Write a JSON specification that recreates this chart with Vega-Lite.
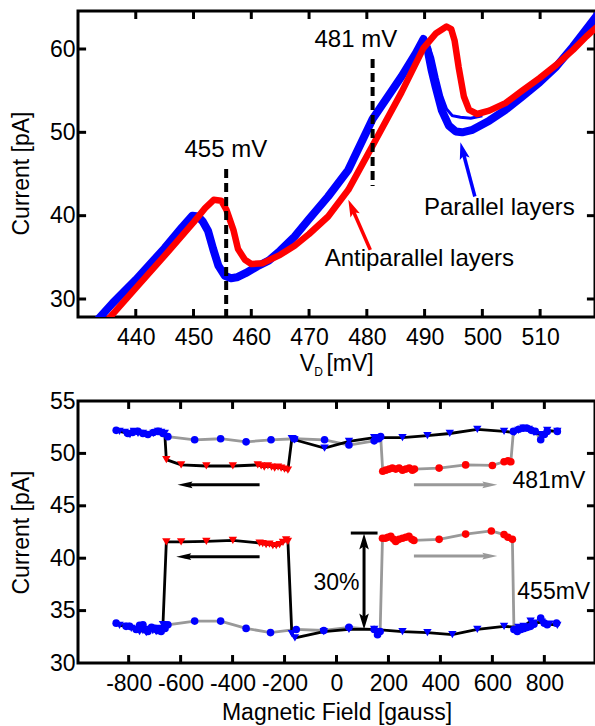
{
  "$schema": "https://vega.github.io/schema/vega-lite/v6.json",
  "padding": {"left": 8, "top": 8, "right": 0, "bottom": 0},
  "spacing": 8,
  "config": {
    "font": "Liberation Sans",
    "view": {"stroke": "black", "strokeWidth": 3},
    "axis": {"domain": false, "grid": false, "ticks": false,
      "labelFont": "Liberation Sans", "labelFontSize": 23, "labelColor": "black", "labelOverlap": false,
      "labelExpr": "datum.value < 0 ? '-' + abs(datum.value) : '' + datum.value",
      "titleFont": "Liberation Sans", "titleFontSize": 23, "titleFontWeight": "normal", "titleColor": "black"},
    "axisX": {"labelPadding": 9, "titlePadding": 6},
    "axisY": {"labelPadding": 3, "titlePadding": 16},
    "text": {"font": "Liberation Sans", "fontSize": 23, "color": "black"},
    "point": {"opacity": 1}
  },
  "datasets": {
    "iv": [
      {"mV": 433.0, "pA": 27.2, "trace": "Parallel"}, {"mV": 436, "pA": 29.5, "trace": "Parallel"}, {"mV": 440, "pA": 32.3, "trace": "Parallel"},
      {"mV": 445, "pA": 36.1, "trace": "Parallel"}, {"mV": 448, "pA": 38.6, "trace": "Parallel"}, {"mV": 449.8, "pA": 40.0, "trace": "Parallel"},
      {"mV": 450.8, "pA": 39.9, "trace": "Parallel"}, {"mV": 451.6, "pA": 39.3, "trace": "Parallel"}, {"mV": 452.5, "pA": 38.2, "trace": "Parallel"},
      {"mV": 453.4, "pA": 36.0, "trace": "Parallel"}, {"mV": 454.3, "pA": 34.0, "trace": "Parallel"}, {"mV": 455.4, "pA": 32.8, "trace": "Parallel"},
      {"mV": 456.5, "pA": 32.5, "trace": "Parallel"}, {"mV": 457.5, "pA": 32.6, "trace": "Parallel"}, {"mV": 459, "pA": 33.1, "trace": "Parallel"},
      {"mV": 461, "pA": 33.9, "trace": "Parallel"}, {"mV": 463, "pA": 34.6, "trace": "Parallel"}, {"mV": 465, "pA": 35.8, "trace": "Parallel"},
      {"mV": 467.5, "pA": 37.5, "trace": "Parallel"}, {"mV": 470, "pA": 39.6, "trace": "Parallel"}, {"mV": 473.3, "pA": 42.3, "trace": "Parallel"},
      {"mV": 476.8, "pA": 45.5, "trace": "Parallel"}, {"mV": 481, "pA": 51.6, "trace": "Parallel"}, {"mV": 486, "pA": 56.7, "trace": "Parallel"},
      {"mV": 488.5, "pA": 59.5, "trace": "Parallel"}, {"mV": 489.8, "pA": 61.2, "trace": "Parallel"}, {"mV": 490.5, "pA": 60.0, "trace": "Parallel"},
      {"mV": 491.2, "pA": 57.5, "trace": "Parallel"}, {"mV": 491.9, "pA": 55.5, "trace": "Parallel"}, {"mV": 493, "pA": 52.6, "trace": "Parallel"},
      {"mV": 494.2, "pA": 50.8, "trace": "Parallel"}, {"mV": 495.4, "pA": 50.1, "trace": "Parallel"}, {"mV": 496.5, "pA": 50.0, "trace": "Parallel"},
      {"mV": 498.3, "pA": 50.3, "trace": "Parallel"}, {"mV": 501.2, "pA": 51.4, "trace": "Parallel"}, {"mV": 504, "pA": 52.7, "trace": "Parallel"},
      {"mV": 506.9, "pA": 54.3, "trace": "Parallel"}, {"mV": 509.9, "pA": 56.0, "trace": "Parallel"}, {"mV": 512.8, "pA": 57.9, "trace": "Parallel"},
      {"mV": 515.7, "pA": 60.3, "trace": "Parallel"}, {"mV": 519.7, "pA": 63.9, "trace": "Parallel"}, {"mV": 521, "pA": 65.1, "trace": "Parallel"},
      {"mV": 489.5, "pA": 60.8, "trace": "Parallel spread"}, {"mV": 490.6, "pA": 60.6, "trace": "Parallel spread"}, {"mV": 491.4, "pA": 59.0, "trace": "Parallel spread"},
      {"mV": 492.2, "pA": 56.5, "trace": "Parallel spread"}, {"mV": 493.0, "pA": 54.3, "trace": "Parallel spread"}, {"mV": 493.8, "pA": 52.8, "trace": "Parallel spread"},
      {"mV": 494.8, "pA": 52.0, "trace": "Parallel spread"}, {"mV": 496.2, "pA": 51.8, "trace": "Parallel spread"}, {"mV": 498, "pA": 51.7, "trace": "Parallel spread"},
      {"mV": 500, "pA": 52.0, "trace": "Parallel spread"},
      {"mV": 434.5, "pA": 27.0, "trace": "Antiparallel"}, {"mV": 440, "pA": 31.3, "trace": "Antiparallel"}, {"mV": 445, "pA": 35.2, "trace": "Antiparallel"},
      {"mV": 450, "pA": 39.2, "trace": "Antiparallel"}, {"mV": 452, "pA": 40.9, "trace": "Antiparallel"}, {"mV": 453.5, "pA": 41.9, "trace": "Antiparallel"},
      {"mV": 454.8, "pA": 41.8, "trace": "Antiparallel"}, {"mV": 455.7, "pA": 40.7, "trace": "Antiparallel"}, {"mV": 456.9, "pA": 38.3, "trace": "Antiparallel"},
      {"mV": 457.7, "pA": 36.0, "trace": "Antiparallel"}, {"mV": 458.9, "pA": 34.7, "trace": "Antiparallel"}, {"mV": 460, "pA": 34.2, "trace": "Antiparallel"},
      {"mV": 462, "pA": 34.3, "trace": "Antiparallel"}, {"mV": 465, "pA": 35.3, "trace": "Antiparallel"}, {"mV": 467.5, "pA": 36.4, "trace": "Antiparallel"},
      {"mV": 470, "pA": 37.8, "trace": "Antiparallel"}, {"mV": 473.3, "pA": 39.9, "trace": "Antiparallel"}, {"mV": 476.8, "pA": 43.1, "trace": "Antiparallel"},
      {"mV": 481, "pA": 48.4, "trace": "Antiparallel"}, {"mV": 486, "pA": 54.8, "trace": "Antiparallel"}, {"mV": 489.8, "pA": 60.1, "trace": "Antiparallel"},
      {"mV": 492, "pA": 61.9, "trace": "Antiparallel"}, {"mV": 493.8, "pA": 62.7, "trace": "Antiparallel"}, {"mV": 494.6, "pA": 62.4, "trace": "Antiparallel"},
      {"mV": 495.2, "pA": 61.0, "trace": "Antiparallel"}, {"mV": 495.9, "pA": 57.8, "trace": "Antiparallel"}, {"mV": 496.8, "pA": 54.3, "trace": "Antiparallel"},
      {"mV": 497.7, "pA": 52.7, "trace": "Antiparallel"}, {"mV": 499.1, "pA": 52.2, "trace": "Antiparallel"}, {"mV": 501.2, "pA": 52.6, "trace": "Antiparallel"},
      {"mV": 504, "pA": 53.5, "trace": "Antiparallel"}, {"mV": 506.9, "pA": 55.0, "trace": "Antiparallel"}, {"mV": 509.9, "pA": 56.5, "trace": "Antiparallel"},
      {"mV": 512.8, "pA": 58.1, "trace": "Antiparallel"}, {"mV": 515.7, "pA": 59.9, "trace": "Antiparallel"}, {"mV": 518, "pA": 61.5, "trace": "Antiparallel"},
      {"mV": 521, "pA": 63.4, "trace": "Antiparallel"}
    ],
    "mr": [
      {"B": -848, "I": 52.2, "sweep": "up", "volt": "481", "state": "P"}, {"B": -803, "I": 51.9, "sweep": "up", "volt": "481", "state": "P"},
      {"B": -785, "I": 52.0, "sweep": "up", "volt": "481", "state": "P"}, {"B": -764, "I": 52.1, "sweep": "up", "volt": "481", "state": "P"},
      {"B": -745, "I": 51.9, "sweep": "up", "volt": "481", "state": "P"}, {"B": -726, "I": 51.8, "sweep": "up", "volt": "481", "state": "P"},
      {"B": -705, "I": 52.0, "sweep": "up", "volt": "481", "state": "P"}, {"B": -687, "I": 52.1, "sweep": "up", "volt": "481", "state": "P"},
      {"B": -668, "I": 51.9, "sweep": "up", "volt": "481", "state": "P"}, {"B": -649, "I": 51.6, "sweep": "up", "volt": "481", "state": "P"},
      {"B": -546, "I": 51.3, "sweep": "up", "volt": "481", "state": "P"}, {"B": -446, "I": 51.4, "sweep": "up", "volt": "481", "state": "P"},
      {"B": -348, "I": 51.1, "sweep": "up", "volt": "481", "state": "P"}, {"B": -252, "I": 51.3, "sweep": "up", "volt": "481", "state": "P"},
      {"B": -162, "I": 51.4, "sweep": "up", "volt": "481", "state": "P"}, {"B": -46, "I": 51.3, "sweep": "up", "volt": "481", "state": "P"},
      {"B": 48, "I": 50.8, "sweep": "up", "volt": "481", "state": "P"}, {"B": 145, "I": 51.2, "sweep": "up", "volt": "481", "state": "P"},
      {"B": 162, "I": 51.4, "sweep": "up", "volt": "481", "state": "P"}, {"B": 170, "I": 51.6, "sweep": "up", "volt": "481", "state": "P"},
      {"B": 178, "I": 48.3, "sweep": "up", "volt": "481", "state": "AP"}, {"B": 190, "I": 48.4, "sweep": "up", "volt": "481", "state": "AP"},
      {"B": 203, "I": 48.5, "sweep": "up", "volt": "481", "state": "AP"}, {"B": 215, "I": 48.6, "sweep": "up", "volt": "481", "state": "AP"},
      {"B": 228, "I": 48.5, "sweep": "up", "volt": "481", "state": "AP"}, {"B": 241, "I": 48.6, "sweep": "up", "volt": "481", "state": "AP"},
      {"B": 254, "I": 48.4, "sweep": "up", "volt": "481", "state": "AP"}, {"B": 267, "I": 48.5, "sweep": "up", "volt": "481", "state": "AP"},
      {"B": 280, "I": 48.6, "sweep": "up", "volt": "481", "state": "AP"}, {"B": 292, "I": 48.4, "sweep": "up", "volt": "481", "state": "AP"},
      {"B": 300, "I": 48.5, "sweep": "up", "volt": "481", "state": "AP"}, {"B": 395, "I": 48.6, "sweep": "up", "volt": "481", "state": "AP"},
      {"B": 497, "I": 48.9, "sweep": "up", "volt": "481", "state": "AP"}, {"B": 600, "I": 48.85, "sweep": "up", "volt": "481", "state": "AP"},
      {"B": 645, "I": 49.2, "sweep": "up", "volt": "481", "state": "AP"}, {"B": 660, "I": 49.3, "sweep": "up", "volt": "481", "state": "AP"},
      {"B": 671, "I": 49.2, "sweep": "up", "volt": "481", "state": "AP"},
      {"B": 681, "I": 52.1, "sweep": "up", "volt": "481", "state": "P"}, {"B": 702, "I": 52.3, "sweep": "up", "volt": "481", "state": "P"},
      {"B": 718, "I": 52.4, "sweep": "up", "volt": "481", "state": "P"}, {"B": 734, "I": 52.4, "sweep": "up", "volt": "481", "state": "P"},
      {"B": 750, "I": 52.2, "sweep": "up", "volt": "481", "state": "P"}, {"B": 765, "I": 52.1, "sweep": "up", "volt": "481", "state": "P"},
      {"B": 786, "I": 51.3, "sweep": "up", "volt": "481", "state": "P"}, {"B": 800, "I": 51.8, "sweep": "up", "volt": "481", "state": "P"},
      {"B": 811, "I": 52.1, "sweep": "up", "volt": "481", "state": "P"}, {"B": 850, "I": 52.1, "sweep": "up", "volt": "481", "state": "P"},

      {"B": 850, "I": 52.1, "sweep": "down", "volt": "481", "state": "P"}, {"B": 811, "I": 52.2, "sweep": "down", "volt": "481", "state": "P"},
      {"B": 786, "I": 51.8, "sweep": "down", "volt": "481", "state": "P"}, {"B": 760, "I": 52.0, "sweep": "down", "volt": "481", "state": "P"},
      {"B": 740, "I": 52.3, "sweep": "down", "volt": "481", "state": "P"}, {"B": 720, "I": 52.4, "sweep": "down", "volt": "481", "state": "P"},
      {"B": 700, "I": 52.2, "sweep": "down", "volt": "481", "state": "P"}, {"B": 685, "I": 52.0, "sweep": "down", "volt": "481", "state": "P"},
      {"B": 645, "I": 52.1, "sweep": "down", "volt": "481", "state": "P"}, {"B": 542, "I": 52.3, "sweep": "down", "volt": "481", "state": "P"},
      {"B": 436, "I": 51.9, "sweep": "down", "volt": "481", "state": "P"}, {"B": 350, "I": 51.7, "sweep": "down", "volt": "481", "state": "P"},
      {"B": 254, "I": 51.5, "sweep": "down", "volt": "481", "state": "P"}, {"B": 145, "I": 51.5, "sweep": "down", "volt": "481", "state": "P"},
      {"B": 48, "I": 51.15, "sweep": "down", "volt": "481", "state": "P"}, {"B": -46, "I": 50.5, "sweep": "down", "volt": "481", "state": "P"},
      {"B": -162, "I": 51.3, "sweep": "down", "volt": "481", "state": "P"}, {"B": -172, "I": 51.4, "sweep": "down", "volt": "481", "state": "P"},
      {"B": -187, "I": 48.4, "sweep": "down", "volt": "481", "state": "AP"}, {"B": -200, "I": 48.5, "sweep": "down", "volt": "481", "state": "AP"},
      {"B": -213, "I": 48.6, "sweep": "down", "volt": "481", "state": "AP"}, {"B": -225, "I": 48.7, "sweep": "down", "volt": "481", "state": "AP"},
      {"B": -238, "I": 48.6, "sweep": "down", "volt": "481", "state": "AP"}, {"B": -250, "I": 48.7, "sweep": "down", "volt": "481", "state": "AP"},
      {"B": -264, "I": 48.8, "sweep": "down", "volt": "481", "state": "AP"}, {"B": -278, "I": 48.7, "sweep": "down", "volt": "481", "state": "AP"},
      {"B": -290, "I": 48.8, "sweep": "down", "volt": "481", "state": "AP"}, {"B": -303, "I": 48.9, "sweep": "down", "volt": "481", "state": "AP"},
      {"B": -399, "I": 48.8, "sweep": "down", "volt": "481", "state": "AP"}, {"B": -501, "I": 48.8, "sweep": "down", "volt": "481", "state": "AP"},
      {"B": -598, "I": 48.9, "sweep": "down", "volt": "481", "state": "AP"}, {"B": -655, "I": 49.4, "sweep": "down", "volt": "481", "state": "AP"},
      {"B": -661, "I": 51.9, "sweep": "down", "volt": "481", "state": "P"}, {"B": -675, "I": 52.0, "sweep": "down", "volt": "481", "state": "P"},
      {"B": -687, "I": 52.1, "sweep": "down", "volt": "481", "state": "P"}, {"B": -705, "I": 51.9, "sweep": "down", "volt": "481", "state": "P"},
      {"B": -722, "I": 51.8, "sweep": "down", "volt": "481", "state": "P"}, {"B": -745, "I": 51.9, "sweep": "down", "volt": "481", "state": "P"},
      {"B": -764, "I": 51.9, "sweep": "down", "volt": "481", "state": "P"}, {"B": -780, "I": 52.1, "sweep": "down", "volt": "481", "state": "P"},
      {"B": -795, "I": 51.8, "sweep": "down", "volt": "481", "state": "P"}, {"B": -815, "I": 52.0, "sweep": "down", "volt": "481", "state": "P"},
      {"B": -835, "I": 52.1, "sweep": "down", "volt": "481", "state": "P"},

      {"B": -848, "I": 33.8, "sweep": "up", "volt": "455", "state": "P"}, {"B": -810, "I": 33.5, "sweep": "up", "volt": "455", "state": "P"},
      {"B": -796, "I": 33.5, "sweep": "up", "volt": "455", "state": "P"}, {"B": -771, "I": 33.2, "sweep": "up", "volt": "455", "state": "P"},
      {"B": -758, "I": 33.6, "sweep": "up", "volt": "455", "state": "P"}, {"B": -745, "I": 33.65, "sweep": "up", "volt": "455", "state": "P"},
      {"B": -726, "I": 33.0, "sweep": "up", "volt": "455", "state": "P"}, {"B": -712, "I": 33.4, "sweep": "up", "volt": "455", "state": "P"},
      {"B": -700, "I": 33.3, "sweep": "up", "volt": "455", "state": "P"}, {"B": -688, "I": 33.1, "sweep": "up", "volt": "455", "state": "P"},
      {"B": -675, "I": 33.0, "sweep": "up", "volt": "455", "state": "P"}, {"B": -660, "I": 33.3, "sweep": "up", "volt": "455", "state": "P"},
      {"B": -649, "I": 33.65, "sweep": "up", "volt": "455", "state": "P"}, {"B": -546, "I": 34.0, "sweep": "up", "volt": "455", "state": "P"},
      {"B": -446, "I": 34.0, "sweep": "up", "volt": "455", "state": "P"}, {"B": -348, "I": 33.3, "sweep": "up", "volt": "455", "state": "P"},
      {"B": -254, "I": 32.9, "sweep": "up", "volt": "455", "state": "P"}, {"B": -155, "I": 33.2, "sweep": "up", "volt": "455", "state": "P"},
      {"B": -49, "I": 33.1, "sweep": "up", "volt": "455", "state": "P"}, {"B": 48, "I": 33.4, "sweep": "up", "volt": "455", "state": "P"},
      {"B": 145, "I": 33.2, "sweep": "up", "volt": "455", "state": "P"}, {"B": 158, "I": 32.7, "sweep": "up", "volt": "455", "state": "P"},
      {"B": 168, "I": 33.0, "sweep": "up", "volt": "455", "state": "P"},
      {"B": 177, "I": 41.9, "sweep": "up", "volt": "455", "state": "AP"}, {"B": 188, "I": 41.9, "sweep": "up", "volt": "455", "state": "AP"},
      {"B": 198, "I": 42.0, "sweep": "up", "volt": "455", "state": "AP"}, {"B": 209, "I": 42.1, "sweep": "up", "volt": "455", "state": "AP"},
      {"B": 220, "I": 41.8, "sweep": "up", "volt": "455", "state": "AP"}, {"B": 228, "I": 41.6, "sweep": "up", "volt": "455", "state": "AP"},
      {"B": 241, "I": 41.8, "sweep": "up", "volt": "455", "state": "AP"}, {"B": 254, "I": 41.9, "sweep": "up", "volt": "455", "state": "AP"},
      {"B": 267, "I": 42.0, "sweep": "up", "volt": "455", "state": "AP"}, {"B": 279, "I": 42.1, "sweep": "up", "volt": "455", "state": "AP"},
      {"B": 290, "I": 41.8, "sweep": "up", "volt": "455", "state": "AP"}, {"B": 298, "I": 41.7, "sweep": "up", "volt": "455", "state": "AP"},
      {"B": 395, "I": 41.8, "sweep": "up", "volt": "455", "state": "AP"}, {"B": 497, "I": 42.3, "sweep": "up", "volt": "455", "state": "AP"},
      {"B": 596, "I": 42.6, "sweep": "up", "volt": "455", "state": "AP"}, {"B": 645, "I": 42.25, "sweep": "up", "volt": "455", "state": "AP"},
      {"B": 660, "I": 42.0, "sweep": "up", "volt": "455", "state": "AP"}, {"B": 677, "I": 41.8, "sweep": "up", "volt": "455", "state": "AP"},
      {"B": 683, "I": 33.2, "sweep": "up", "volt": "455", "state": "P"}, {"B": 696, "I": 33.0, "sweep": "up", "volt": "455", "state": "P"},
      {"B": 710, "I": 33.2, "sweep": "up", "volt": "455", "state": "P"}, {"B": 722, "I": 33.3, "sweep": "up", "volt": "455", "state": "P"},
      {"B": 735, "I": 33.4, "sweep": "up", "volt": "455", "state": "P"}, {"B": 747, "I": 33.5, "sweep": "up", "volt": "455", "state": "P"},
      {"B": 760, "I": 33.7, "sweep": "up", "volt": "455", "state": "P"}, {"B": 786, "I": 34.3, "sweep": "up", "volt": "455", "state": "P"},
      {"B": 800, "I": 33.8, "sweep": "up", "volt": "455", "state": "P"}, {"B": 811, "I": 33.65, "sweep": "up", "volt": "455", "state": "P"},
      {"B": 847, "I": 33.8, "sweep": "up", "volt": "455", "state": "P"},

      {"B": 850, "I": 33.6, "sweep": "down", "volt": "455", "state": "P"}, {"B": 820, "I": 33.7, "sweep": "down", "volt": "455", "state": "P"},
      {"B": 790, "I": 33.9, "sweep": "down", "volt": "455", "state": "P"}, {"B": 760, "I": 33.8, "sweep": "down", "volt": "455", "state": "P"},
      {"B": 747, "I": 34.0, "sweep": "down", "volt": "455", "state": "P"}, {"B": 720, "I": 33.5, "sweep": "down", "volt": "455", "state": "P"},
      {"B": 700, "I": 33.4, "sweep": "down", "volt": "455", "state": "P"}, {"B": 645, "I": 33.5, "sweep": "down", "volt": "455", "state": "P"},
      {"B": 542, "I": 33.2, "sweep": "down", "volt": "455", "state": "P"}, {"B": 446, "I": 32.7, "sweep": "down", "volt": "455", "state": "P"},
      {"B": 350, "I": 32.9, "sweep": "down", "volt": "455", "state": "P"}, {"B": 254, "I": 33.0, "sweep": "down", "volt": "455", "state": "P"},
      {"B": 145, "I": 33.2, "sweep": "down", "volt": "455", "state": "P"}, {"B": 48, "I": 33.2, "sweep": "down", "volt": "455", "state": "P"},
      {"B": -49, "I": 33.0, "sweep": "down", "volt": "455", "state": "P"}, {"B": -160, "I": 32.4, "sweep": "down", "volt": "455", "state": "P"},
      {"B": -172, "I": 32.8, "sweep": "down", "volt": "455", "state": "P"},
      {"B": -187, "I": 41.6, "sweep": "down", "volt": "455", "state": "AP"}, {"B": -194, "I": 41.75, "sweep": "down", "volt": "455", "state": "AP"},
      {"B": -206, "I": 41.5, "sweep": "down", "volt": "455", "state": "AP"}, {"B": -219, "I": 41.3, "sweep": "down", "volt": "455", "state": "AP"},
      {"B": -232, "I": 41.2, "sweep": "down", "volt": "455", "state": "AP"}, {"B": -245, "I": 41.2, "sweep": "down", "volt": "455", "state": "AP"},
      {"B": -258, "I": 41.35, "sweep": "down", "volt": "455", "state": "AP"}, {"B": -271, "I": 41.3, "sweep": "down", "volt": "455", "state": "AP"},
      {"B": -284, "I": 41.4, "sweep": "down", "volt": "455", "state": "AP"}, {"B": -296, "I": 41.45, "sweep": "down", "volt": "455", "state": "AP"},
      {"B": -399, "I": 41.7, "sweep": "down", "volt": "455", "state": "AP"}, {"B": -501, "I": 41.6, "sweep": "down", "volt": "455", "state": "AP"},
      {"B": -598, "I": 41.55, "sweep": "down", "volt": "455", "state": "AP"}, {"B": -655, "I": 41.55, "sweep": "down", "volt": "455", "state": "AP"},
      {"B": -668, "I": 33.65, "sweep": "down", "volt": "455", "state": "P"}, {"B": -681, "I": 33.3, "sweep": "down", "volt": "455", "state": "P"},
      {"B": -694, "I": 33.0, "sweep": "down", "volt": "455", "state": "P"}, {"B": -707, "I": 33.1, "sweep": "down", "volt": "455", "state": "P"},
      {"B": -720, "I": 33.2, "sweep": "down", "volt": "455", "state": "P"}, {"B": -732, "I": 32.9, "sweep": "down", "volt": "455", "state": "P"},
      {"B": -745, "I": 33.1, "sweep": "down", "volt": "455", "state": "P"}, {"B": -758, "I": 33.0, "sweep": "down", "volt": "455", "state": "P"},
      {"B": -775, "I": 33.2, "sweep": "down", "volt": "455", "state": "P"}, {"B": -790, "I": 33.3, "sweep": "down", "volt": "455", "state": "P"},
      {"B": -810, "I": 33.5, "sweep": "down", "volt": "455", "state": "P"}, {"B": -835, "I": 33.6, "sweep": "down", "volt": "455", "state": "P"}
    ],
    "topXTicks": [{"mV": 440}, {"mV": 450}, {"mV": 460}, {"mV": 470}, {"mV": 480}, {"mV": 490}, {"mV": 500}, {"mV": 510}],
    "topYTicks": [{"pA": 30}, {"pA": 40}, {"pA": 50}, {"pA": 60}],
    "botXTicks": [{"B": -800}, {"B": -600}, {"B": -400}, {"B": -200}, {"B": 0}, {"B": 200}, {"B": 400}, {"B": 600}, {"B": 800}],
    "botYTicks": [{"I": 35}, {"I": 40}, {"I": 45}, {"I": 50}]
  },
  "vconcat": [
    {
      "width": 517,
      "height": 306,
      "resolve": {"axis": {"x": "independent", "y": "independent"}},
      "layer": [
        {
          "data": {"name": "iv"},
          "transform": [{"filter": "datum.trace === 'Parallel'"}],
          "mark": {"type": "line", "color": "#0000ff", "strokeWidth": 8, "clip": true, "strokeJoin": "round"},
          "encoding": {
            "x": {"field": "mV", "type": "quantitative", "scale": {"domain": [430, 519.5], "nice": false, "zero": false},
              "axis": {"orient": "bottom", "values": [440, 450, 460, 470, 480, 490, 500, 510], "title": null}},
            "y": {"field": "pA", "type": "quantitative", "scale": {"domain": [27.84, 64.56], "nice": false, "zero": false},
              "axis": {"orient": "left", "values": [30, 40, 50, 60], "title": "Current [pA]", "titleY": 162}}
          }
        },
        {
          "data": {"name": "iv"},
          "transform": [{"filter": "datum.trace === 'Parallel spread'"}],
          "mark": {"type": "line", "color": "#0000ff", "strokeWidth": 3, "clip": true},
          "encoding": {
            "x": {"field": "mV", "type": "quantitative", "axis": null},
            "y": {"field": "pA", "type": "quantitative", "axis": null}
          }
        },
        {
          "data": {"name": "iv"},
          "transform": [{"filter": "datum.trace === 'Antiparallel'"}],
          "mark": {"type": "line", "color": "#ff0000", "strokeWidth": 6.5, "clip": true, "strokeJoin": "round"},
          "encoding": {
            "x": {"field": "mV", "type": "quantitative", "axis": null},
            "y": {"field": "pA", "type": "quantitative", "axis": null}
          }
        },
        {
          "data": {"name": "topXTicks"},
          "mark": {"type": "rule", "color": "black", "strokeWidth": 3},
          "encoding": {"x": {"field": "mV", "type": "quantitative", "axis": null}, "y": {"datum": 27.84, "axis": null}, "y2": {"datum": 28.8}}
        },
        {
          "data": {"name": "topXTicks"},
          "mark": {"type": "rule", "color": "black", "strokeWidth": 3},
          "encoding": {"x": {"field": "mV", "type": "quantitative", "axis": null}, "y": {"datum": 64.56, "axis": null}, "y2": {"datum": 63.6}}
        },
        {
          "data": {"name": "topYTicks"},
          "mark": {"type": "rule", "color": "black", "strokeWidth": 3},
          "encoding": {"y": {"field": "pA", "type": "quantitative", "axis": null}, "x": {"datum": 430, "axis": null}, "x2": {"datum": 431.4}}
        },
        {
          "data": {"name": "topYTicks"},
          "mark": {"type": "rule", "color": "black", "strokeWidth": 3},
          "encoding": {"y": {"field": "pA", "type": "quantitative", "axis": null}, "x": {"datum": 519.5, "axis": null}, "x2": {"datum": 518.1}}
        },
        {
          "data": {"values": [{}]},
          "mark": {"type": "rule", "color": "black", "strokeWidth": 4, "strokeDash": [9, 5]},
          "encoding": {"x": {"datum": 455.65, "axis": null}, "y": {"datum": 45.6, "axis": null}, "y2": {"datum": 27.84}}
        },
        {
          "data": {"values": [{}]},
          "mark": {"type": "rule", "color": "black", "strokeWidth": 4, "strokeDash": [9, 5]},
          "encoding": {"x": {"datum": 481.0, "axis": null}, "y": {"datum": 58.8, "axis": null}, "y2": {"datum": 43.55}}
        },
        {
          "data": {"values": [{}]},
          "mark": {"type": "text", "text": "455 mV", "align": "center", "baseline": "alphabetic", "fontSize": 24},
          "encoding": {"x": {"datum": 455.6, "axis": null}, "y": {"datum": 47.0, "axis": null}}
        },
        {
          "data": {"values": [{}]},
          "mark": {"type": "text", "text": "481 mV", "align": "center", "baseline": "alphabetic", "fontSize": 24},
          "encoding": {"x": {"datum": 478.1, "axis": null}, "y": {"datum": 60.3, "axis": null}}
        },
        {
          "data": {"values": [{}]},
          "mark": {"type": "text", "text": "Parallel layers", "align": "left", "baseline": "alphabetic", "fontSize": 24},
          "encoding": {"x": {"datum": 489.9, "axis": null}, "y": {"datum": 40.1, "axis": null}}
        },
        {
          "data": {"values": [{}]},
          "mark": {"type": "text", "text": "Antiparallel layers", "align": "left", "baseline": "alphabetic", "fontSize": 24},
          "encoding": {"x": {"datum": 472.7, "axis": null}, "y": {"datum": 34.0, "axis": null}}
        },
        {
          "data": {"values": [{}]},
          "mark": {"type": "rule", "color": "#ff0000", "strokeWidth": 3.5},
          "encoding": {"x": {"datum": 480.6, "axis": null}, "y": {"datum": 35.9, "axis": null}, "x2": {"datum": 477.5}, "y2": {"datum": 40.8}}
        },
        {
          "data": {"values": [{}]},
          "mark": {"type": "point", "shape": "M0,0L0.6,2L0,1.6L-0.6,2Z", "filled": true, "color": "#ff0000", "size": 289, "angle": 336.4, "strokeWidth": 0},
          "encoding": {"x": {"datum": 476.8, "axis": null}, "y": {"datum": 41.9, "axis": null}}
        },
        {
          "data": {"values": [{}]},
          "mark": {"type": "rule", "color": "#0000ff", "strokeWidth": 3.5},
          "encoding": {"x": {"datum": 498.7, "axis": null}, "y": {"datum": 42.3, "axis": null}, "x2": {"datum": 496.65}, "y2": {"datum": 47.64}}
        },
        {
          "data": {"values": [{}]},
          "mark": {"type": "point", "shape": "M0,0L0.6,2L0,1.6L-0.6,2Z", "filled": true, "color": "#0000ff", "size": 289, "angle": 345.2, "strokeWidth": 0},
          "encoding": {"x": {"datum": 496.2, "axis": null}, "y": {"datum": 48.8, "axis": null}}
        },
        {
          "data": {"values": [{}]},
          "mark": {"type": "text", "text": "V", "align": "left", "baseline": "alphabetic", "dy": 54},
          "encoding": {"x": {"datum": 468.4, "axis": null}, "y": {"datum": 27.84, "axis": null}}
        },
        {
          "data": {"values": [{}]},
          "mark": {"type": "text", "text": "D", "align": "left", "baseline": "alphabetic", "dy": 59, "fontSize": 12},
          "encoding": {"x": {"datum": 470.9, "axis": null}, "y": {"datum": 27.84, "axis": null}}
        },
        {
          "data": {"values": [{}]},
          "mark": {"type": "text", "text": "[mV]", "align": "left", "baseline": "alphabetic", "dy": 54},
          "encoding": {"x": {"datum": 473.0, "axis": null}, "y": {"datum": 27.84, "axis": null}}
        }
      ]
    },
    {
      "width": 517,
      "height": 262,
      "resolve": {"axis": {"x": "independent", "y": "independent"}},
      "layer": [
        {
          "data": {"name": "mr"},
          "transform": [{"filter": "datum.sweep === 'up'"}],
          "mark": {"type": "line", "color": "#999999", "strokeWidth": 2.8},
          "encoding": {
            "x": {"field": "B", "type": "quantitative", "scale": {"domain": [-995, 995], "nice": false, "zero": false},
              "axis": {"orient": "bottom", "values": [-800, -600, -400, -200, 0, 200, 400, 600, 800], "title": "Magnetic Field [gauss]"}},
            "y": {"field": "I", "type": "quantitative", "scale": {"domain": [30, 55], "nice": false, "zero": false},
              "axis": {"orient": "left", "values": [30, 35, 40, 45, 50, 55], "title": "Current [pA]"}},
            "detail": {"field": "volt"}
          }
        },
        {
          "data": {"name": "mr"},
          "transform": [{"filter": "datum.sweep === 'down'"}],
          "mark": {"type": "line", "color": "#000000", "strokeWidth": 2.8},
          "encoding": {
            "x": {"field": "B", "type": "quantitative", "axis": null},
            "y": {"field": "I", "type": "quantitative", "axis": null},
            "detail": {"field": "volt"}
          }
        },
        {
          "data": {"name": "mr"},
          "transform": [{"filter": "datum.sweep === 'up'"}],
          "mark": {"type": "point", "shape": "circle", "filled": true, "size": 58, "opacity": 1},
          "encoding": {
            "x": {"field": "B", "type": "quantitative", "axis": null},
            "y": {"field": "I", "type": "quantitative", "axis": null},
            "color": {"field": "state", "type": "nominal", "scale": {"domain": ["P", "AP"], "range": ["#0000ff", "#ff0000"]}, "legend": null}
          }
        },
        {
          "data": {"name": "mr"},
          "transform": [{"filter": "datum.sweep === 'down'"}],
          "mark": {"type": "point", "shape": "triangle-down", "filled": true, "size": 70, "opacity": 1},
          "encoding": {
            "x": {"field": "B", "type": "quantitative", "axis": null},
            "y": {"field": "I", "type": "quantitative", "axis": null},
            "color": {"field": "state", "type": "nominal", "legend": null}
          }
        },
        {
          "data": {"name": "botXTicks"},
          "mark": {"type": "rule", "color": "black", "strokeWidth": 3},
          "encoding": {"x": {"field": "B", "type": "quantitative", "axis": null}, "y": {"datum": 30, "axis": null}, "y2": {"datum": 30.76}}
        },
        {
          "data": {"name": "botXTicks"},
          "mark": {"type": "rule", "color": "black", "strokeWidth": 3},
          "encoding": {"x": {"field": "B", "type": "quantitative", "axis": null}, "y": {"datum": 55, "axis": null}, "y2": {"datum": 54.24}}
        },
        {
          "data": {"name": "botYTicks"},
          "mark": {"type": "rule", "color": "black", "strokeWidth": 3},
          "encoding": {"y": {"field": "I", "type": "quantitative", "axis": null}, "x": {"datum": -995, "axis": null}, "x2": {"datum": -964}}
        },
        {
          "data": {"name": "botYTicks"},
          "mark": {"type": "rule", "color": "black", "strokeWidth": 3},
          "encoding": {"y": {"field": "I", "type": "quantitative", "axis": null}, "x": {"datum": 995, "axis": null}, "x2": {"datum": 964}}
        },
        {
          "data": {"values": [{}]},
          "mark": {"type": "rule", "color": "black", "strokeWidth": 3},
          "encoding": {"x": {"datum": -296, "axis": null}, "x2": {"datum": -580}, "y": {"datum": 47.0, "axis": null}}
        },
        {
          "data": {"values": [{}]},
          "mark": {"type": "point", "shape": "M0,0L0.45,2L0,1.7L-0.45,2Z", "filled": true, "color": "black", "size": 225, "angle": 270, "strokeWidth": 0},
          "encoding": {"x": {"datum": -612, "axis": null}, "y": {"datum": 47.0, "axis": null}}
        },
        {
          "data": {"values": [{}]},
          "mark": {"type": "rule", "color": "black", "strokeWidth": 3},
          "encoding": {"x": {"datum": -296, "axis": null}, "x2": {"datum": -585}, "y": {"datum": 40.15, "axis": null}}
        },
        {
          "data": {"values": [{}]},
          "mark": {"type": "point", "shape": "M0,0L0.45,2L0,1.7L-0.45,2Z", "filled": true, "color": "black", "size": 225, "angle": 270, "strokeWidth": 0},
          "encoding": {"x": {"datum": -617, "axis": null}, "y": {"datum": 40.15, "axis": null}}
        },
        {
          "data": {"values": [{}]},
          "mark": {"type": "rule", "color": "#999999", "strokeWidth": 3},
          "encoding": {"x": {"datum": 298, "axis": null}, "x2": {"datum": 585}, "y": {"datum": 47.0, "axis": null}}
        },
        {
          "data": {"values": [{}]},
          "mark": {"type": "point", "shape": "M0,0L0.45,2L0,1.7L-0.45,2Z", "filled": true, "color": "#999999", "size": 225, "angle": 90, "strokeWidth": 0},
          "encoding": {"x": {"datum": 619, "axis": null}, "y": {"datum": 47.0, "axis": null}}
        },
        {
          "data": {"values": [{}]},
          "mark": {"type": "rule", "color": "#999999", "strokeWidth": 3},
          "encoding": {"x": {"datum": 298, "axis": null}, "x2": {"datum": 585}, "y": {"datum": 40.2, "axis": null}}
        },
        {
          "data": {"values": [{}]},
          "mark": {"type": "point", "shape": "M0,0L0.45,2L0,1.7L-0.45,2Z", "filled": true, "color": "#999999", "size": 225, "angle": 90, "strokeWidth": 0},
          "encoding": {"x": {"datum": 619, "axis": null}, "y": {"datum": 40.2, "axis": null}}
        },
        {
          "data": {"values": [{}]},
          "mark": {"type": "rule", "color": "black", "strokeWidth": 3},
          "encoding": {"x": {"datum": 106, "axis": null}, "y": {"datum": 41.4, "axis": null}, "y2": {"datum": 34.2}}
        },
        {
          "data": {"values": [{}]},
          "mark": {"type": "rule", "color": "black", "strokeWidth": 3},
          "encoding": {"x": {"datum": 55, "axis": null}, "x2": {"datum": 158}, "y": {"datum": 42.4, "axis": null}}
        },
        {
          "data": {"values": [{}]},
          "mark": {"type": "point", "shape": "M0,0L0.6,2L0,1.6L-0.6,2Z", "filled": true, "color": "black", "size": 256, "angle": 0, "strokeWidth": 0},
          "encoding": {"x": {"datum": 106, "axis": null}, "y": {"datum": 42.35, "axis": null}}
        },
        {
          "data": {"values": [{}]},
          "mark": {"type": "point", "shape": "M0,0L0.6,2L0,1.6L-0.6,2Z", "filled": true, "color": "black", "size": 256, "angle": 180, "strokeWidth": 0},
          "encoding": {"x": {"datum": 106, "axis": null}, "y": {"datum": 33.2, "axis": null}}
        },
        {
          "data": {"values": [{}]},
          "mark": {"type": "text", "text": "30%", "align": "center", "baseline": "alphabetic"},
          "encoding": {"x": {"datum": 0, "axis": null}, "y": {"datum": 37.0, "axis": null}}
        },
        {
          "data": {"values": [{}]},
          "mark": {"type": "text", "text": "481mV", "align": "left", "baseline": "alphabetic"},
          "encoding": {"x": {"datum": 677, "axis": null}, "y": {"datum": 46.7, "axis": null}}
        },
        {
          "data": {"values": [{}]},
          "mark": {"type": "text", "text": "455mV", "align": "left", "baseline": "alphabetic"},
          "encoding": {"x": {"datum": 696, "axis": null}, "y": {"datum": 36.1, "axis": null}}
        }
      ]
    }
  ]
}
